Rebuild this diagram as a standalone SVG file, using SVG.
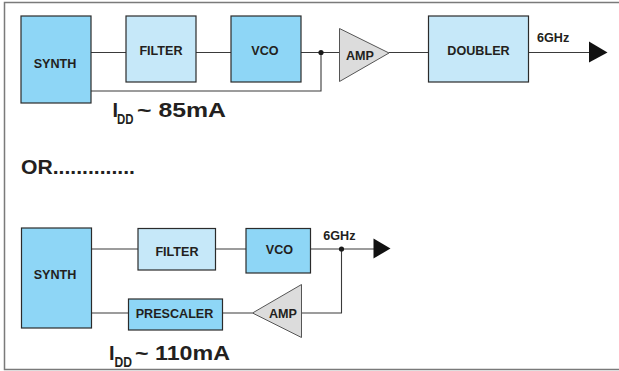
<svg xmlns="http://www.w3.org/2000/svg" width="619" height="371" viewBox="0 0 619 371">
<defs>
<style>
.bk{fill:#8ed6f6;stroke:#2b2b2b;stroke-width:1.2}
.lt{fill:#c6e8f9;stroke:#2b2b2b;stroke-width:1.2}
.amp{fill:#dcdcdc;stroke:#555;stroke-width:1}
.w{fill:none;stroke:#3a3a3a;stroke-width:1.1}
.lbl{font-family:"Liberation Sans",Arial,sans-serif;font-weight:bold;font-size:12.6px;fill:#231f20;text-anchor:middle}
.big{font-family:"Liberation Sans",Arial,sans-serif;font-weight:bold;fill:#231f20}
.arr{fill:#111}
</style>
</defs>
<rect width="619" height="371" fill="#fff"/>
<path d="M625 2.5H4.5V369.5H625" fill="none" stroke="#7a7a7a" stroke-width="1.5"/>

<g id="connectors">
<path class="w" d="M91 52.5H126M196 52.5H231M301 52.5H339.5M389 52.5H428.5M528.5 52.5H590"/>
<path class="w" d="M91 91H321V52.5"/>
<circle cx="321" cy="52.5" r="2.6" fill="#1a1a1a"/>
<polygon class="arr" points="589,41.5 607.5,52.5 589,62.5"/>
<path class="w" d="M91 249H138M215.5 249H246M310.5 249H374"/>
<path class="w" d="M341.5 249V313H301.5M252.5 313H222.5M128.5 313H91"/>
<circle cx="341.5" cy="249" r="2.6" fill="#1a1a1a"/>
<polygon class="arr" points="373.5,238.5 390.5,248.5 373.5,258.5"/>
</g>

<g id="synth1"><rect class="bk" x="21" y="16" width="70" height="87"/><text class="lbl" x="55" y="67.5">SYNTH</text></g>
<g id="filter1"><rect class="lt" x="126" y="16" width="70" height="66"/><text class="lbl" x="161" y="55">FILTER</text></g>
<g id="vco1"><rect class="bk" x="231" y="16" width="70" height="66"/><text class="lbl" x="265" y="55">VCO</text></g>
<g id="amp1"><polygon class="amp" points="339.5,28.5 389,53 339.5,81.5"/><text class="lbl" x="360" y="59.5">AMP</text></g>
<g id="doubler"><rect class="lt" x="428.5" y="16" width="100" height="66"/><text class="lbl" x="478.5" y="55">DOUBLER</text></g>
<text class="big" x="537" y="42.3" font-size="12.6">6GHz</text>
<g id="idd1">
<text class="big" x="112.5" y="117.3" font-size="20">I</text>
<text class="big" x="117" y="123.5" font-size="14" textLength="16.5" lengthAdjust="spacingAndGlyphs">DD</text>
<text class="big" x="137" y="117.3" font-size="20" textLength="89" lengthAdjust="spacingAndGlyphs">~ 85mA</text>
</g>

<text class="big" x="21" y="174.3" font-size="21" textLength="114" lengthAdjust="spacingAndGlyphs">OR..............</text>

<g id="synth2"><rect class="bk" x="21.5" y="228" width="70" height="100"/><text class="lbl" x="55" y="278.5">SYNTH</text></g>
<g id="filter2"><rect class="lt" x="138" y="228.5" width="77.5" height="41.5"/><text class="lbl" x="177" y="255.7">FILTER</text></g>
<g id="vco2"><rect class="bk" x="246" y="228.5" width="64.5" height="44.5"/><text class="lbl" x="279.5" y="253.5">VCO</text></g>
<g id="prescaler"><rect class="bk" x="128.5" y="299" width="94" height="31"/><text class="lbl" x="174.5" y="318.3">PRESCALER</text></g>
<g id="amp2"><polygon class="amp" points="301.5,284.5 252.5,313 301.5,337.5"/><text class="lbl" x="283" y="317.7">AMP</text></g>
<text class="big" x="323.3" y="240" font-size="12.6">6GHz</text>
<g id="idd2">
<text class="big" x="109" y="360" font-size="20">I</text>
<text class="big" x="114.5" y="366.7" font-size="14" textLength="17.5" lengthAdjust="spacingAndGlyphs">DD</text>
<text class="big" x="135" y="360" font-size="20" textLength="95" lengthAdjust="spacingAndGlyphs">~ 110mA</text>
</g>
</svg>
